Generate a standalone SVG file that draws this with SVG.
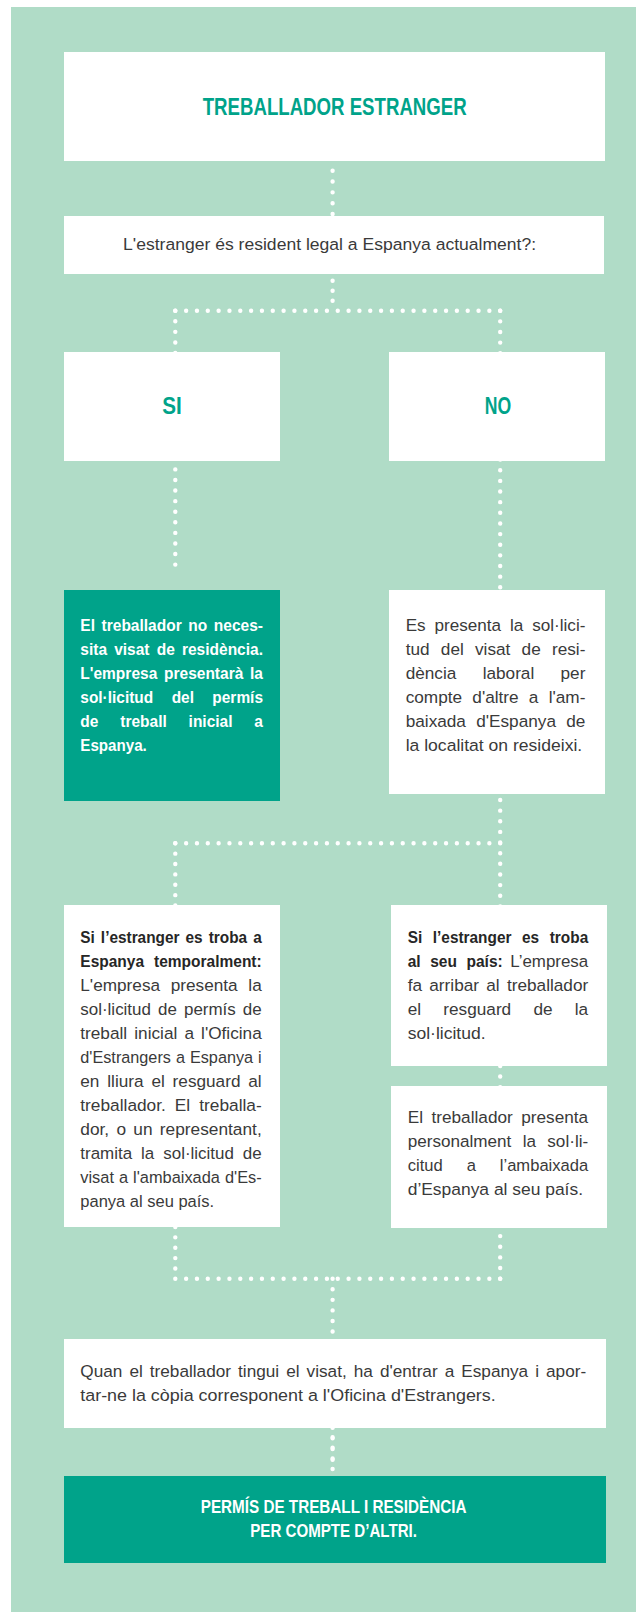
<svg xmlns="http://www.w3.org/2000/svg" width="636" height="1612" viewBox="0 0 636 1612">
<style>
.bg{fill:#b0dcc7}
.wbox{fill:#ffffff}
.gbox{fill:#00a38a}
.dots{fill:none;stroke:#ffffff;stroke-width:4.4;stroke-linecap:round}
.hd{font-family:'Liberation Sans',Arial,sans-serif;font-weight:bold;fill:#00a38a}
.hw{font-family:'Liberation Sans',Arial,sans-serif;font-weight:bold;fill:#ffffff}
.r{font-family:'Liberation Sans',Arial,sans-serif;font-size:17.2px;fill:#3a3a3a}
.b{font-family:'Liberation Sans',Arial,sans-serif;font-size:16.5px;font-weight:bold;fill:#262626}
.bw{font-family:'Liberation Sans',Arial,sans-serif;font-size:16.5px;font-weight:bold;fill:#ffffff}
</style>
<rect class="bg" x="11" y="7" width="625" height="1605"/>
<g id="connectors">
<path class="dots" stroke-dasharray="0 10.83" d="M332.6 170.7 V214.3"/>
<path class="dots" stroke-dasharray="0 10" d="M332.6 280.7 V310.7"/>
<path class="dots" stroke-dasharray="0 10.83" d="M175.3 310.7 H500.2"/>
<path class="dots" stroke-dasharray="0 10.58" d="M175.3 310.7 V575"/>
<path class="dots" stroke-dasharray="0 10.637" d="M500.2 310.7 V1278.7"/>
<path class="dots" stroke-dasharray="0 10.83" d="M175.3 843.3 H500.2"/>
<path class="dots" stroke-dasharray="0 10.37" d="M175.3 843.3 V1278.7"/>
<path class="dots" stroke-dasharray="0 10.83" d="M175.3 1278.7 H500.2"/>
<path class="dots" stroke-dasharray="0 10.57" d="M332.6 1278.7 V1476"/>
<path class="dots" stroke-dasharray="0 10.67" d="M332.6 1427.7 V1467.7"/>
</g>
<g id="n-title">
<rect class="wbox" x="64" y="52" width="541" height="109"/>
<text class="hd" x="334.7" y="115" font-size="24" text-anchor="middle" textLength="264" lengthAdjust="spacingAndGlyphs">TREBALLADOR ESTRANGER</text>
</g>
<g id="n-question">
<rect class="wbox" x="64" y="216" width="540" height="58"/>
<text class="r" x="329.6" y="250" text-anchor="middle" textLength="413" lengthAdjust="spacingAndGlyphs">L'estranger és resident legal a Espanya actualment?:</text>
</g>
<g id="n-si">
<rect class="wbox" x="64" y="352" width="216" height="109"/>
<text class="hd" x="172" y="414" font-size="23" text-anchor="middle" textLength="19.5" lengthAdjust="spacingAndGlyphs">SI</text>
</g>
<g id="n-no">
<rect class="wbox" x="389" y="352" width="216" height="109"/>
<text class="hd" x="498" y="414" font-size="23" text-anchor="middle" textLength="26.4" lengthAdjust="spacingAndGlyphs">NO</text>
</g>
<g id="n-si-result">
<rect class="gbox" x="64" y="590" width="216" height="211"/>
<text class="bw" x="80.3" y="630.7" word-spacing="2.43" textLength="182.7" lengthAdjust="spacingAndGlyphs">El treballador no neces-</text>
<text class="bw" x="80.3" y="654.7" word-spacing="3.03" textLength="182.7" lengthAdjust="spacingAndGlyphs">sita visat de residència.</text>
<text class="bw" x="80.3" y="678.7" word-spacing="2.6" textLength="182.7" lengthAdjust="spacingAndGlyphs">L'empresa presentarà la</text>
<text class="bw" x="80.3" y="702.7" word-spacing="15.11" textLength="182.7" lengthAdjust="spacingAndGlyphs">sol·licitud del permís</text>
<text class="bw" x="80.3" y="726.7" word-spacing="18.63" textLength="182.7" lengthAdjust="spacingAndGlyphs">de treball inicial a</text>
<text class="bw" x="80.3" y="750.7" textLength="66.5" lengthAdjust="spacingAndGlyphs">Espanya.</text>
</g>
<g id="n-no-visa">
<rect class="wbox" x="389" y="590" width="216" height="204"/>
<text class="r" x="405.7" y="630.7" word-spacing="4.14" textLength="179.7" lengthAdjust="spacingAndGlyphs">Es presenta la sol·lici-</text>
<text class="r" x="405.7" y="654.7" word-spacing="6.45" textLength="179.7" lengthAdjust="spacingAndGlyphs">tud del visat de resi-</text>
<text class="r" x="405.7" y="678.7" word-spacing="21.5" textLength="179.7" lengthAdjust="spacingAndGlyphs">dència laboral per</text>
<text class="r" x="405.7" y="702.7" word-spacing="5.46" textLength="179.7" lengthAdjust="spacingAndGlyphs">compte d'altre a l'am-</text>
<text class="r" x="405.7" y="726.7" word-spacing="5.5" textLength="179.7" lengthAdjust="spacingAndGlyphs">baixada d'Espanya de</text>
<text class="r" x="405.7" y="750.7" textLength="176.5" lengthAdjust="spacingAndGlyphs">la localitat on resideixi.</text>
</g>
<g id="n-temporal">
<rect class="wbox" x="64" y="905" width="216" height="322"/>
<text class="b" x="80.3" y="942.7" word-spacing="1.89" textLength="181.4" lengthAdjust="spacingAndGlyphs">Si l’estranger es troba a</text>
<text class="b" x="80.3" y="966.7" word-spacing="5.94" textLength="181.4" lengthAdjust="spacingAndGlyphs">Espanya temporalment:</text>
<text class="r" x="80.3" y="990.7" word-spacing="5.89" textLength="181.4" lengthAdjust="spacingAndGlyphs">L'empresa presenta la</text>
<text class="r" x="80.3" y="1014.7" word-spacing="2.41" textLength="181.4" lengthAdjust="spacingAndGlyphs">sol·licitud de permís de</text>
<text class="r" x="80.3" y="1038.7" word-spacing="2.34" textLength="181.4" lengthAdjust="spacingAndGlyphs">treball inicial a l'Oficina</text>
<text class="r" x="80.3" y="1062.7" word-spacing="0.5" textLength="181.4" lengthAdjust="spacingAndGlyphs">d'Estrangers a Espanya i</text>
<text class="r" x="80.3" y="1086.7" word-spacing="3.05" textLength="181.4" lengthAdjust="spacingAndGlyphs">en lliura el resguard al</text>
<text class="r" x="80.3" y="1110.7" word-spacing="4.19" textLength="181.4" lengthAdjust="spacingAndGlyphs">treballador. El treballa-</text>
<text class="r" x="80.3" y="1134.7" word-spacing="2.46" textLength="181.4" lengthAdjust="spacingAndGlyphs">dor, o un representant,</text>
<text class="r" x="80.3" y="1158.7" word-spacing="4.33" textLength="181.4" lengthAdjust="spacingAndGlyphs">tramita la sol·licitud de</text>
<text class="r" x="80.3" y="1182.7" word-spacing="0.5" textLength="181.4" lengthAdjust="spacingAndGlyphs">visat a l'ambaixada d'Es-</text>
<text class="r" x="80.3" y="1206.7" textLength="133.9" lengthAdjust="spacingAndGlyphs">panya al seu país.</text>
</g>
<g id="n-country">
<rect class="wbox" x="391" y="905" width="216" height="161"/>
<text class="b" x="407.7" y="942.7" word-spacing="6.78" textLength="180.5" lengthAdjust="spacingAndGlyphs">Si l’estranger es troba</text>
<text class="b" x="407.7" y="966.7" word-spacing="5.59" textLength="95" lengthAdjust="spacingAndGlyphs">al seu país:</text>
<text class="r" x="588.2" y="966.7" text-anchor="end" textLength="78" lengthAdjust="spacingAndGlyphs">L’empresa</text>
<text class="r" x="407.7" y="990.7" word-spacing="2.5" textLength="180.5" lengthAdjust="spacingAndGlyphs">fa arribar al treballador</text>
<text class="r" x="407.7" y="1014.7" word-spacing="17.46" textLength="180.5" lengthAdjust="spacingAndGlyphs">el resguard de la</text>
<text class="r" x="407.7" y="1038.7" textLength="77.9" lengthAdjust="spacingAndGlyphs">sol·licitud.</text>
</g>
<g id="n-personal">
<rect class="wbox" x="391" y="1086" width="216" height="142"/>
<text class="r" x="407.7" y="1122.7" word-spacing="3.73" textLength="180.5" lengthAdjust="spacingAndGlyphs">El treballador presenta</text>
<text class="r" x="407.7" y="1146.7" word-spacing="6.62" textLength="180.5" lengthAdjust="spacingAndGlyphs">personalment la sol·li-</text>
<text class="r" x="407.7" y="1170.7" word-spacing="20.08" textLength="180.5" lengthAdjust="spacingAndGlyphs">citud a l’ambaixada</text>
<text class="r" x="407.7" y="1194.7" textLength="175.3" lengthAdjust="spacingAndGlyphs">d’Espanya al seu país.</text>
</g>
<g id="n-visa">
<rect class="wbox" x="64" y="1339" width="542" height="89"/>
<text class="r" x="80.3" y="1376.7" word-spacing="2.24" textLength="505.9" lengthAdjust="spacingAndGlyphs">Quan el treballador tingui el visat, ha d'entrar a Espanya i apor-</text>
<text class="r" x="80.3" y="1400.7" textLength="415.4" lengthAdjust="spacingAndGlyphs">tar-ne la còpia corresponent a l'Oficina d'Estrangers.</text>
</g>
<g id="n-permit">
<rect class="gbox" x="64" y="1476" width="542" height="87"/>
<text class="hw" font-size="18.5" x="333.6" y="1513.3" text-anchor="middle" textLength="265.7" lengthAdjust="spacingAndGlyphs">PERMÍS DE TREBALL I RESIDÈNCIA</text>
<text class="hw" font-size="18.5" x="333.6" y="1537.3" text-anchor="middle" textLength="166.7" lengthAdjust="spacingAndGlyphs">PER COMPTE D’ALTRI.</text>
</g>
</svg>
